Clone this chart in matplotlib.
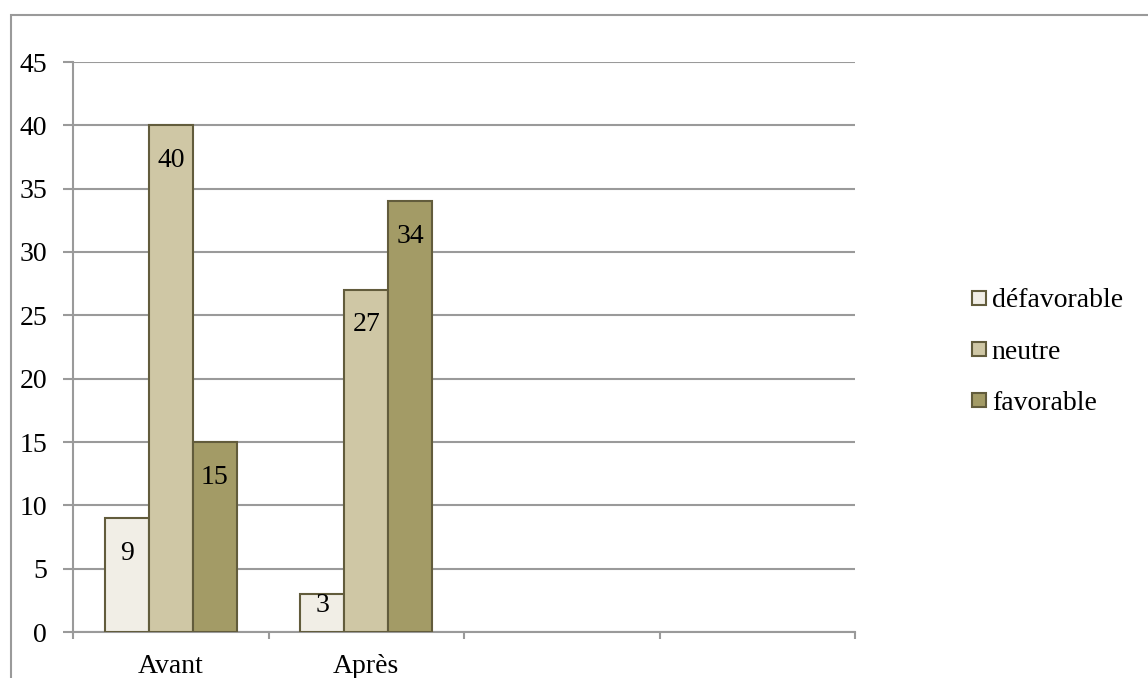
import matplotlib
matplotlib.use("Agg")
import matplotlib.pyplot as plt
import matplotlib.patches as patches
from matplotlib.lines import Line2D
import numpy as np

# data
categories = ["Avant", "Après", "", ""]
series_names = ["défavorable", "neutre", "favorable"]
defavorable = [9, 3, None, None]
neutre = [40, 27, None, None]
favorable = [15, 34, None, None]
y_ticks = [0, 5, 10, 15, 20, 25, 30, 35, 40, 45]

colors = ["#f1eee6", "#cfc7a5", "#a39b66"]
edge = "#625c3c"
grid_col = "#9a9a9a"

plt.rcParams["font.family"] = ["Liberation Serif", "DejaVu Serif"]
plt.rcParams["font.size"] = 20

W, H = 1148, 678
fig = plt.figure(figsize=(W / 100, H / 100), dpi=100)

# outer chart frame (runs off the right and bottom of the picture)
frame = patches.Rectangle((11 / W, -0.1), 1.2, (H - 15) / H + 0.1,
                          transform=fig.transFigure, fill=False,
                          edgecolor=grid_col, linewidth=1.5)
fig.patches.append(frame)

ax = fig.add_axes([73 / W, 46 / H, (855 - 73) / W, (632 - 62) / H])

x = np.arange(len(categories))
bw = 0.225
series = [defavorable, neutre, favorable]
bar_sets = []
for k, vals in enumerate(series):
    xs = [x[i] + (k - 1) * bw for i in range(len(vals)) if vals[i] is not None]
    vs = [v for v in vals if v is not None]
    ax.bar(xs, vs, width=bw, color=colors[k], edgecolor=edge,
           linewidth=1.5, zorder=3)
    bar_sets.append((xs, vs))

ax.set_xlim(-0.5, len(categories) - 0.5)
ax.set_ylim(0, 45)
ax.set_yticks(y_ticks)
ax.set_yticklabels([str(t) for t in y_ticks])
ax.yaxis.grid(True, color=grid_col, linewidth=1.5, zorder=0)
ax.set_axisbelow(True)

ax.set_xticks(x)
ax.set_xticklabels(categories)
ax.set_xticks(np.arange(len(categories) + 1) - 0.5, minor=True)
ax.tick_params(axis="x", which="major", length=0, pad=16)
ax.tick_params(axis="x", which="minor", length=5, width=1.5, color=grid_col)
ax.tick_params(axis="y", length=7.2, width=1.5, color=grid_col, pad=11.5)

for s in ["top", "right"]:
    ax.spines[s].set_visible(False)
for s in ["left", "bottom"]:
    ax.spines[s].set_color(grid_col)
    ax.spines[s].set_linewidth(1.5)

# value labels: inside end, pushed up for short bars
y0 = ax.transData.transform((0, 0))[1]
for xs, vs in bar_sets:
    for xi, v in zip(xs, vs):
        ytop = ax.transData.transform((0, v))[1]
        ylab = max(ytop - 35, y0 + 27)
        ax.annotate(str(v), xy=(xi, v), xytext=(0, ylab - ytop),
                    textcoords="offset pixels", ha="center", va="center",
                    zorder=4)

handles = [Line2D([], [], linestyle="none", marker="s", markersize=9.5,
                  markerfacecolor=c, markeredgecolor=edge, markeredgewidth=1.5)
           for c in colors]
fig.legend(handles, series_names, loc="center left",
           bbox_to_anchor=(971 / W, 1 - 352 / H), frameon=False,
           handlelength=0.6, handletextpad=0.15, labelspacing=0.93,
           borderpad=0, borderaxespad=0)

fig.savefig("out.png", dpi=100)
